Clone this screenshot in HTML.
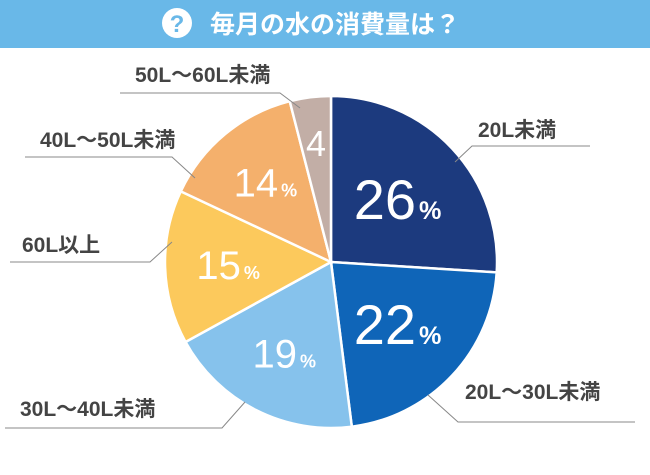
<!DOCTYPE html>
<html><head><meta charset="utf-8"><style>
body{margin:0;width:650px;height:470px;background:#fff;overflow:hidden;font-family:"Liberation Sans","Noto Sans CJK JP",sans-serif}
</style></head><body>
<svg width="650" height="470" xmlns="http://www.w3.org/2000/svg" font-family="Liberation Sans, Noto Sans CJK JP, sans-serif">
<rect x="0" y="0" width="650" height="48" fill="#69b8e8"/>
<g><circle cx="177" cy="23" r="15" fill="#fff"/><text x="177" y="32" font-size="24" font-weight="bold" fill="#69b8e8" text-anchor="middle">?</text></g>
<text x="210" y="33" font-size="25" font-weight="bold" fill="#fff" font-family="Noto Sans CJK JP, sans-serif">毎月の水の消費量は？</text>
<g id="pie"></g>
<g id="labels" fill="#444" font-size="21" font-weight="bold" stroke="none"></g>
</svg>
<script>
const categories=["20L未満","20L〜30L未満","30L〜40L未満","60L以上","40L〜50L未満","50L〜60L未満"];
const values=[26,22,19,15,14,4];
const colors=["#1c3a7e","#0f65b8","#86c2ec","#fcc95c","#f4b06c","#c2aea6"];
const cx=331,cy=262,r=166;
const NS="http://www.w3.org/2000/svg";
const pie=document.getElementById('pie');
const total=values.reduce((a,b)=>a+b,0);
function pt(a,rr){return [cx+rr*Math.sin(a),cy-rr*Math.cos(a)];}
let a0=0;
values.forEach((v,i)=>{
  const a1=a0+v/total*2*Math.PI;
  const p0=pt(a0,r),p1=pt(a1,r);
  const path=document.createElementNS(NS,'path');
  path.setAttribute('d',`M${cx},${cy}L${p0[0]},${p0[1]}A${r},${r} 0 ${a1-a0>Math.PI?1:0} 1 ${p1[0]},${p1[1]}Z`);
  path.setAttribute('fill',colors[i]);path.setAttribute('stroke','#fff');path.setAttribute('stroke-width','2.5');
  
  
  pie.appendChild(path);
  const m=(a0+a1)/2;
  const big=i===0||i===1;
  const fs=big?56:(v<5?36:40);
  const lp=pt(m,v<5?r*0.72:(big?r*0.55:r*0.62));
  const t=document.createElementNS(NS,'text');
  t.setAttribute('x',lp[0]);t.setAttribute('y',lp[1]+fs*0.35);
  t.setAttribute('text-anchor','middle');t.setAttribute('fill','#fff');t.setAttribute('font-size',fs);
  
  
  t.textContent=v;
  if(v>=5){const s=document.createElementNS(NS,'tspan');s.setAttribute('font-size',fs*0.45);s.setAttribute('font-weight','bold');s.setAttribute('dx','3');s.textContent='%';t.appendChild(s);}
  pie.appendChild(t);
  a0=a1;
});
const lab=document.getElementById('labels');
const lpos=[[478,137,"455,162 472,146 590,146"],[465,399,"428,395 458,422 635,422"],[20,416,"245,402 222,428 5,428"],[22,252,"172,242 150,262 10,262"],[40,147,"195,178 172,157 25,157"],[135,82,"300,108 280,93 120,93"]];
categories.forEach((c,i)=>{
  const t=document.createElementNS(NS,'text');
  t.setAttribute('x',lpos[i][0]);t.setAttribute('y',lpos[i][1]);
  
  
  t.textContent=c;lab.appendChild(t);
  const l=document.createElementNS(NS,'polyline');
  l.setAttribute('points',lpos[i][2]);l.setAttribute('fill','none');l.setAttribute('stroke','#888');l.setAttribute('stroke-width','1');
  
  
  lab.appendChild(l);
});
</script>
</body></html>
